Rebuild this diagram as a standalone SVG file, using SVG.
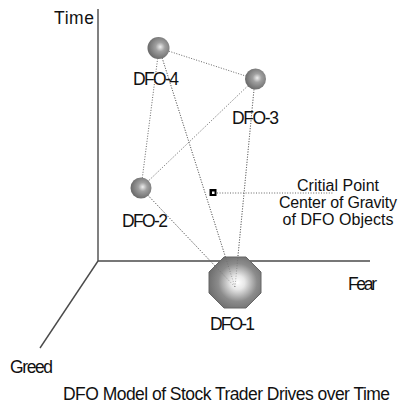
<svg xmlns="http://www.w3.org/2000/svg" width="398" height="406" viewBox="0 0 398 406">
<style>
text{font-family:"Liberation Sans",Arial,sans-serif;font-size:17.5px;fill:#111}
.cp{font-size:16px}
.ax{stroke:#4a4a4a;stroke-width:1.4;fill:none}
.dot{stroke:#666;stroke-width:1;stroke-dasharray:1 1.6;fill:none}
</style>
<defs>
<radialGradient id="sph" cx="0.58" cy="0.45" r="0.6">
<stop offset="0" stop-color="#eeeeee"/>
<stop offset="0.35" stop-color="#a0a0a0"/>
<stop offset="1" stop-color="#666"/>
</radialGradient>
<radialGradient id="big" cx="0.55" cy="0.5" r="0.62">
<stop offset="0" stop-color="#ffffff"/>
<stop offset="0.22" stop-color="#e8e8e8"/>
<stop offset="0.6" stop-color="#8c8c8c"/>
<stop offset="1" stop-color="#666"/>
</radialGradient>
</defs>
<rect width="398" height="406" fill="#fff"/>
<g id="axes">
<line class="ax" x1="98" y1="9" x2="98" y2="261"/>
<line class="ax" x1="98" y1="261" x2="370" y2="261"/>
<line class="ax" x1="98" y1="261" x2="40" y2="348"/>
<text x="54" y="24" textLength="40">Time</text>
<text x="348" y="290" textLength="29">Fear</text>
<text x="10" y="373" textLength="43">Greed</text>
</g>
<g id="connectors">
<line class="dot" x1="159" y1="48" x2="255" y2="79"/>
<line class="dot" x1="159" y1="48" x2="141" y2="188"/>
<line class="dot" x1="159" y1="48" x2="235" y2="287"/>
<line class="dot" x1="255" y1="79" x2="141" y2="188"/>
<line class="dot" x1="255" y1="79" x2="235" y2="287"/>
<line class="dot" x1="141" y1="188" x2="235" y2="287"/>
<line class="dot" x1="217" y1="193" x2="333" y2="193"/>
</g>
<g id="dfo1">
<path d="M224 257 L246 257 L261 272 L261 293 L246 308 L224 308 L209 293 L209 272 Z" fill="url(#big)" stroke="#666" stroke-width="1" stroke-linejoin="round"/>
<line class="dot" x1="159" y1="48" x2="235" y2="287" opacity="0.5"/>
<line class="dot" x1="255" y1="79" x2="235" y2="287" opacity="0.5"/>
<line class="dot" x1="141" y1="188" x2="235" y2="287" opacity="0.5"/>
<text x="210" y="330" textLength="45">DFO-1</text>
</g>
<g id="dfo2">
<circle cx="141" cy="188" r="10.5" fill="url(#sph)"/>
<text x="122" y="227" textLength="46">DFO-2</text>
</g>
<g id="dfo3">
<circle cx="255.5" cy="79" r="10.5" fill="url(#sph)"/>
<text x="232" y="124" textLength="47">DFO-3</text>
</g>
<g id="dfo4">
<circle cx="158.5" cy="48" r="11" fill="url(#sph)"/>
<text x="133" y="85" textLength="46">DFO-4</text>
</g>
<g id="critical">
<rect x="209.5" y="189" width="7" height="7" fill="#000"/>
<rect x="212" y="191.5" width="2.5" height="2.5" fill="#fff"/>
<text class="cp" x="338" y="191" text-anchor="middle" textLength="82">Critial Point</text>
<text class="cp" x="338" y="208" text-anchor="middle" textLength="118">Center of Gravity</text>
<text class="cp" x="338" y="225" text-anchor="middle" textLength="111">of DFO Objects</text>
</g>
<text x="63" y="400" textLength="327">DFO Model of Stock Trader Drives over Time</text>
</svg>
